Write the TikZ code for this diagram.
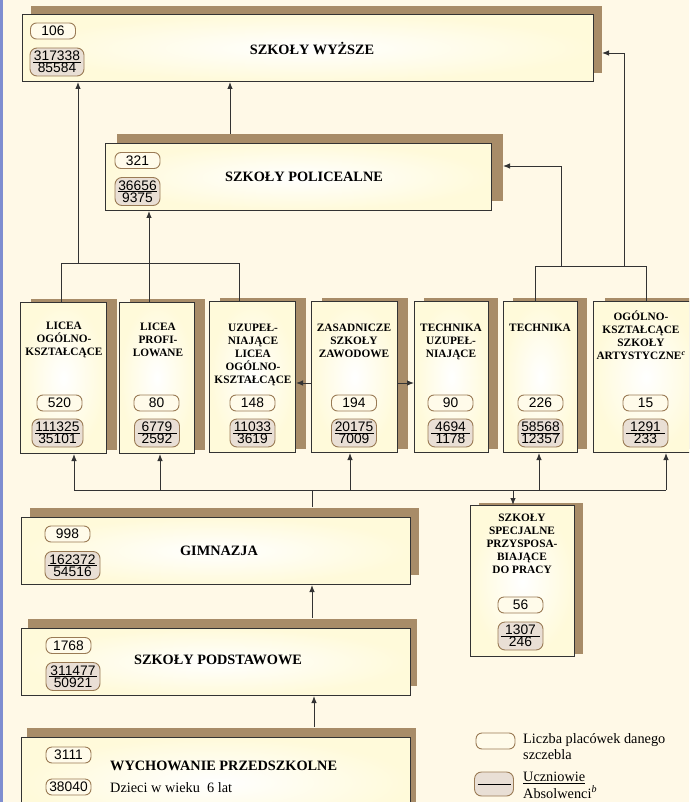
\documentclass[tikz,border=0pt]{standalone}
\usepackage{fontspec}
\setmainfont{Liberation Serif}
\newfontfamily\numfont{Liberation Sans}
\usetikzlibrary{shadows,arrows.meta}
\definecolor{bgc}{HTML}{FFF9E7}
\definecolor{shadowc}{HTML}{A88C68}
\definecolor{boxc}{HTML}{FFFADA}
\definecolor{pillc}{HTML}{FFFBEA}
\definecolor{pilltwoc}{HTML}{E9DFD5}
\definecolor{pillb}{HTML}{9A7B55}
\definecolor{linec}{HTML}{333333}
\definecolor{bluec}{HTML}{7F8ED0}
\begin{document}
\begin{tikzpicture}[x=1pt,y=-1pt,
  box/.style={draw=linec, line width=1pt, inner color=white, outer color=boxc, inner sep=0pt, anchor=north west},
  shad/.style 2 args={drop shadow={shadow xshift=#1pt, shadow yshift=#2pt, fill=shadowc, opacity=1}},
  pa/.style={draw=pillb, line width=0.9pt, fill=pillc, rounded corners=6pt, minimum width=45pt, minimum height=16pt, inner sep=0pt, font=\numfont\fontsize{13.8}{13.8}\selectfont},
  pb/.style={draw=pillb, line width=0.9pt, fill=pilltwoc, rounded corners=7pt, minimum width=45pt, minimum height=28pt, inner sep=0pt, align=center, font=\numfont\fontsize{13.8}{12.3}\selectfont,
    path picture={\draw[line width=0.7pt, black] ([xshift=3pt]path picture bounding box.west) -- ([xshift=-3pt]path picture bounding box.east);}},
  ttl/.style={font=\bfseries\fontsize{14.3}{16}\selectfont, inner sep=0pt, anchor=base},
  mt/.style={font=\bfseries\fontsize{11.3}{13.2}\selectfont, inner sep=0pt, anchor=north, align=center},
  txt/.style={font=\fontsize{14.3}{16}\selectfont, inner sep=0pt},
  ln/.style={draw=linec, line width=0.9pt},
  arr/.style={draw=linec, line width=0.9pt, -{Latex[length=7pt,width=5.5pt]}}
]
\useasboundingbox (0,0) rectangle (689,802);
\clip (0,0) rectangle (689,802);
\fill[bgc] (0,0) rectangle (689,802);
\fill[bluec] (0,0) rectangle (3,802);

% main boxes
\node[box, shad={8}{8}, minimum width=571pt, minimum height=67pt] (wyz) at (22,14) {};
\node[box, shad={11}{9}, minimum width=386pt, minimum height=67pt] (pol) at (105,143) {};
\node[box, shad={10}{4}, minimum width=86pt, minimum height=151pt] (b1) at (20,302) {};
\node[box, shad={10}{4}, minimum width=75pt, minimum height=151pt] (b2) at (119,302) {};
\node[box, shad={10}{4}, minimum width=86pt, minimum height=151pt] (b3) at (209,301) {};
\node[box, shad={10}{4}, minimum width=86pt, minimum height=151pt] (b4) at (311,301) {};
\node[box, shad={9}{4}, minimum width=74pt, minimum height=151pt] (b5) at (414,301) {};
\node[box, shad={9}{4}, minimum width=74pt, minimum height=151pt] (b6) at (503,301) {};
\node[box, shad={11}{4}, minimum width=105pt, minimum height=151pt] (b7) at (593,301) {};
\node[box, shad={8}{3}, minimum width=104pt, minimum height=151pt] (spec) at (470,505) {};
\node[box, shad={8}{10}, minimum width=389pt, minimum height=67pt] (gim) at (21,517) {};
\node[box, shad={6}{10}, minimum width=389pt, minimum height=67pt] (pod) at (21,628) {};
\node[box, shad={5}{10}, minimum width=389pt, minimum height=90pt] (wych) at (21,737) {};

% titles
\node[ttl] (wyzt) at (312,55) {SZKOŁY WYŻSZE};
\node[ttl] (polt) at (304,182) {SZKOŁY POLICEALNE};
\node[ttl] (gimt) at (219,555) {GIMNAZJA};
\node[ttl] (podt) at (218,664) {SZKOŁY PODSTAWOWE};
\node[ttl, anchor=base west] (wycht) at (110,770.5) {WYCHOWANIE PRZEDSZKOLNE};
\node[txt, anchor=base west] (dzieci) at (110,792.7) {Dzieci w wieku\ \ 6 lat};

\node[mt] (b1t) at (64,317.8) {\rule{0pt}{11pt}LICEA\\OGÓLNO-\\KSZTAŁCĄCE};
\node[mt] (b2t) at (158,318.8) {\rule{0pt}{11pt}LICEA\\PROFI-\\LOWANE};
\node[mt] (b3t) at (253,319.8) {\rule{0pt}{11pt}UZUPEŁ-\\NIAJĄCE\\LICEA\\OGÓLNO-\\KSZTAŁCĄCE};
\node[mt] (b4t) at (354,319.8) {\rule{0pt}{11pt}ZASADNICZE\\SZKOŁY\\ZAWODOWE};
\node[mt] (b5t) at (451,319.8) {\rule{0pt}{11pt}TECHNIKA\\UZUPEŁ-\\NIAJĄCE};
\node[mt] (b6t) at (540,319.8) {\rule{0pt}{11pt}TECHNIKA};
\node[mt] (b7t) at (641,308.8) {\rule{0pt}{11pt}OGÓLNO-\\KSZTAŁCĄCE\\SZKOŁY\\ARTYSTYCZNE\textsuperscript{\itshape c}};
\node[mt] (spect) at (522,509.8) {\rule{0pt}{11pt}SZKOŁY\\SPECJALNE\\PRZYSPOSA-\\BIAJĄCE\\DO PRACY};

% pills
\node[pa] (wyza) at (53,31) {106};
\node[pb, minimum width=54pt] (wyzb) at (57,62) {317338\\85584};
\node[pa] (pola) at (137.5,160.5) {321};
\node[pb] (polb) at (137.5,191.5) {36656\\9375};
\node[pa] (b1a) at (59.5,403) {520};
\node[pb, minimum width=51pt] (b1b) at (57.5,433) {111325\\35101};
\node[pa] (b2a) at (156.5,403) {80};
\node[pb] (b2b) at (157,433) {6779\\2592};
\node[pa] (b3a) at (252.5,403) {148};
\node[pb] (b3b) at (252.5,433) {11033\\3619};
\node[pa] (b4a) at (354,403) {194};
\node[pb] (b4b) at (354,433) {20175\\7009};
\node[pa] (b5a) at (450.5,403) {90};
\node[pb] (b5b) at (450.5,433) {4694\\1178};
\node[pa] (b6a) at (540.5,403) {226};
\node[pb] (b6b) at (540.5,433) {58568\\12357};
\node[pa] (b7a) at (645.5,403) {15};
\node[pb] (b7b) at (645.5,433) {1291\\233};
\node[pa] (speca) at (520.5,605) {56};
\node[pb] (specb) at (520.5,636) {1307\\246};
\node[pa] (gima) at (67.5,534) {998};
\node[pb, minimum width=55pt] (gimb) at (72.5,565.5) {162372\\54516};
\node[pa] (poda) at (68.5,645.5) {1768};
\node[pb, minimum width=54pt] (podb) at (73,676.5) {311477\\50921};
\node[pa] (wycha) at (68.5,755) {3111};
\node[pa] (wychb) at (68.5,787) {38040};

% legend
\node[pa, minimum width=39pt] (lega) at (495.5,741) {};
\node[pb, minimum width=39pt, minimum height=24pt] (legb) at (494,784) {};
\node[txt, anchor=north west, align=left] (legat) at (523,732) {\rule{0pt}{11pt}Liczba placówek danego\\szczebla};
\node[txt, anchor=north west, align=left, font=\fontsize{14.3}{16.3}\selectfont] (legbt) at (523,770.5) {\rule{0pt}{11pt}\underline{Uczniowie}\\Absolwenci\textsuperscript{\itshape b}};

% helper coordinates
\coordinate (wyzsh) at ([xshift=8pt]wyz.east);
\coordinate (polshE) at ([xshift=11pt]pol.east);
\coordinate (polsh) at ([yshift=9pt]pol.north);
\coordinate (gimsh) at ([yshift=10pt]gim.north);
\coordinate (podsh) at ([yshift=10pt]pod.north);
\coordinate (wychsh) at ([yshift=10pt]wych.north);

\coordinate (lbL) at (61.5,263);
\coordinate (lbR) at (239.5,263);
\coordinate (lbW) at (78,263);
\coordinate (lbP) at (149,263);
\coordinate (pw) at (230,0);
\coordinate (rbL) at (535,266);
\coordinate (rbR) at (646,266);
\coordinate (rbP) at (561,266);
\coordinate (rbW) at (624,266);
\coordinate (rpY) at (561,166);
\coordinate (rwY) at (624,53);
\coordinate (hL) at (74,490);
\coordinate (hR) at (666,490);
\coordinate (u2) at (160,490);
\coordinate (u4) at (350,490);
\coordinate (u6) at (539,490);
\coordinate (g) at (312,490);
\coordinate (sp) at (513,490);
\coordinate (pg) at (312,0);
\coordinate (wp) at (314,0);
\coordinate (mY) at (0,383);

% connectors top
\draw[ln] (b1.north -| lbL) -- (lbL) -- (lbR) -- (b3.north -| lbR);
\draw[arr] (lbW) -- (lbW |- wyz.south);
\draw[arr] (b2.north -| lbP) -- (lbP |- pol.south);
\draw[arr] (pw |- polsh) -- (pw |- wyz.south);
\draw[ln] (b6.north -| rbL) -- (rbL) -- (rbR) -- (b7.north -| rbR);
\draw[arr] (rbP) -- (rpY) -- (rpY -| polshE);
\draw[arr] (rbW) -- (rwY) -- (rwY -| wyzsh);
% middle
\draw[arr] (b4.west |- mY) -- (b3.east |- mY);
\draw[arr] (b4.east |- mY) -- (b5.west |- mY);
% bottom
\draw[ln] (hL) -- (hR);
\draw[arr] (hL) -- (hL |- b1.south);
\draw[arr] (u2) -- (u2 |- b2.south);
\draw[arr] (u4) -- (u4 |- b4.south);
\draw[arr] (u6) -- (u6 |- b6.south);
\draw[arr] (hR) -- (hR |- b7.south);
\draw[ln] (gimsh -| g) -- (g);
\draw[arr] (sp) -- (sp |- spec.north);
\draw[arr] (podsh -| pg) -- (pg |- gim.south);
\draw[arr] (wychsh -| wp) -- (wp |- pod.south);
\end{tikzpicture}
\end{document}
